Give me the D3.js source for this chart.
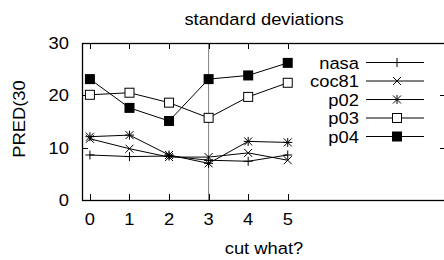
<!DOCTYPE html>
<html><head><meta charset="utf-8">
<script src="https://cdn.jsdelivr.net/npm/d3@7"></script>
<style>
body{margin:0;background:#fff;}
text{font-family:"Liberation Sans",Arial,sans-serif;font-size:17px;fill:#000;}
</style></head>
<body>
<svg id="c" width="444" height="260"></svg>
<script>
const cuts = [0,1,2,3,4,5];
const xTicks = [0,1,2,3,4,5];
const yTicks = [0,10,20,30];
const seriesNames = ["nasa","coc81","p02","p03","p04"];
const nasa  = [8.6, 8.3, 8.4, 7.6, 7.4, 8.6];
const coc81 = [11.7, 9.8, 8.2, 8.2, 9.0, 7.6];
const p02   = [12.1, 12.4, 8.6, 7.0, 11.2, 11.0];
const p03   = [20.1, 20.5, 18.6, 15.7, 19.7, 22.4];
const p04   = [23.1, 17.6, 15.1, 23.1, 23.8, 26.2];
const markerLine = 3;
const title = "standard deviations";
const xLabel = "cut what?";
const yLabel = "PRED(30";

const svg = d3.select("#c");
const x = d3.scaleLinear().domain([-0.2, 9]).range([82, 446]);
const y = d3.scaleLinear().domain([0, 30]).range([200, 43]);
const SX = 1.08;

function txt(px, py, str, anchor, dy, rot){
  const g = svg.append("g").attr("transform", `translate(${px},${py})` + (rot?` rotate(${rot})`:"") + ` scale(${SX},1)`);
  const t = g.append("text").attr("x",0).attr("y",0).attr("text-anchor",anchor).text(str);
  if(dy) t.attr("dy",dy);
  return t;
}

const data = [nasa, coc81, p02, p03, p04];
const symbols = ["plus","cross","star","box","fbox"];

function drawMarker(g, type, cx, cy){
  const s = 4.5;
  if(type==="plus"){
    g.append("path").attr("d",`M${cx-s},${cy}H${cx+s}M${cx},${cy-s}V${cy+s}`).attr("stroke","#000").attr("fill","none");
  } else if(type==="cross"){
    const t=4;
    g.append("path").attr("d",`M${cx-t},${cy-t}L${cx+t},${cy+t}M${cx-t},${cy+t}L${cx+t},${cy-t}`).attr("stroke","#000").attr("fill","none");
  } else if(type==="star"){
    const t=4;
    g.append("path").attr("d",`M${cx-t},${cy-t}L${cx+t},${cy+t}M${cx-t},${cy+t}L${cx+t},${cy-t}M${cx-s},${cy}H${cx+s}M${cx},${cy-s}V${cy+s}`).attr("stroke","#000").attr("fill","none");
  } else if(type==="box"){
    g.append("rect").attr("x",cx-4.5).attr("y",cy-4.5).attr("width",9).attr("height",9).attr("fill","#fff").attr("stroke","#000");
  } else if(type==="fbox"){
    g.append("rect").attr("x",cx-5).attr("y",cy-5).attr("width",10).attr("height",10).attr("fill","#000");
  }
}

// frame
const [x0,x1] = x.range(), [y0,y1] = y.range();
svg.append("line").attr("x1",x(markerLine)).attr("x2",x(markerLine)).attr("y1",y0).attr("y2",y1).attr("stroke","#808080").attr("stroke-width",1);
svg.append("rect").attr("x",x0+0.5).attr("y",y1+0.5).attr("width",x1-x0).attr("height",y0-y1).attr("fill","none").attr("stroke","#000").attr("stroke-width",1.3);

// ticks
xTicks.forEach(t=>{
  const px = Math.round(x(t))+0.5;
  svg.append("line").attr("x1",px).attr("x2",px).attr("y1",y0).attr("y2",y0-6).attr("stroke","#000");
  svg.append("line").attr("x1",px).attr("x2",px).attr("y1",y1).attr("y2",y1+6).attr("stroke","#000");
  txt(x(t), 225, t, "middle");
});
yTicks.forEach(t=>{
  const py = Math.round(y(t))+0.5;
  svg.append("line").attr("x1",x0).attr("x2",x0+6).attr("y1",py).attr("y2",py).attr("stroke","#000");
  svg.append("line").attr("x1",x1).attr("x2",x1-6).attr("y1",py).attr("y2",py).attr("stroke","#000");
  txt(69, y(t), t, "end", "0.36em");
});

// series
const line = d3.line().x((d,i)=>x(cuts[i])).y(d=>y(d));
data.forEach((vals,k)=>{
  const g = svg.append("g");
  g.append("path").attr("d",line(vals)).attr("fill","none").attr("stroke","#000").attr("stroke-width",1);
  vals.forEach((v,i)=>drawMarker(g, symbols[k], x(cuts[i]), y(v)));
});

// legend
seriesNames.forEach((n,k)=>{
  const ly = 62.5 + k*18.5;
  txt(359, ly, n, "end", "0.36em");
  svg.append("line").attr("x1",366).attr("x2",424).attr("y1",ly).attr("y2",ly).attr("stroke","#000");
  drawMarker(svg, symbols[k], 397, ly);
});

// labels
txt(264, 25, title, "middle");
txt(264, 254, xLabel, "middle");
txt(24.5, 119, yLabel, "middle", null, -90);
</script>
</body></html>
